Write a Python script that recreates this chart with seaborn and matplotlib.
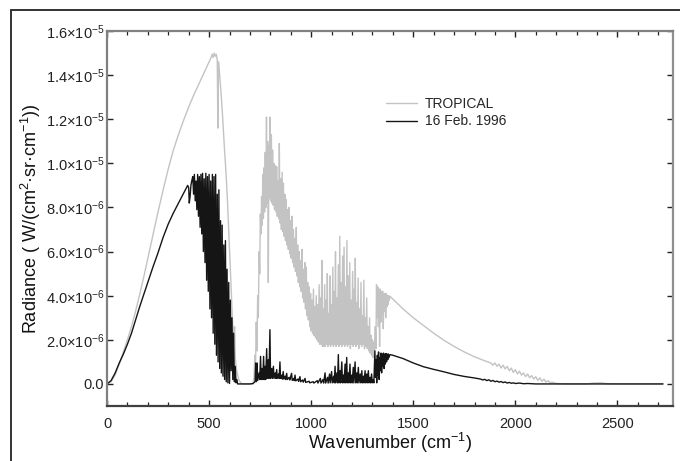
import numpy as np
import pandas as pd
import matplotlib
matplotlib.use("Agg")
import matplotlib.pyplot as plt
from matplotlib.patches import Rectangle
from matplotlib.ticker import MultipleLocator
import seaborn as sns

# ---------------- data (radiance in units of 1e-6 W/(cm2 sr cm-1)) ----------------
series_names = ["TROPICAL", "16 Feb. 1996"]

trop_wn = [0, 20, 40, 60, 80, 100, 120, 140, 160, 180, 200, 225, 250, 275, 300, 325, 350, 375, 400,
           425, 450, 475, 500, 505, 510, 515, 520, 525, 530, 535, 540, 543, 546, 550, 555, 560, 565,
           570, 575, 580, 585, 590, 595, 600, 605, 610, 615, 620, 625, 628, 635, 645, 655, 665, 715,
           720, 724, 727, 731, 734, 738, 741, 745, 748, 751, 754, 757, 760, 763, 766, 769, 772, 775,
           778, 781, 784, 787, 790, 793, 796, 799, 802, 805, 808, 811, 814, 817, 820, 824, 827, 831,
           834, 838, 841, 844, 847, 851, 854, 858, 861, 864, 867, 871, 874, 878, 881, 885, 888, 892,
           895, 899, 902, 906, 909, 913, 916, 920, 923, 927, 930, 934, 937, 941, 944, 948, 951, 955,
           958, 962, 965, 969, 972, 976, 979, 983, 986, 990, 993, 997, 1000, 1004, 1007, 1011, 1014,
           1018, 1021, 1025, 1028, 1032, 1035, 1039, 1042, 1046, 1049, 1052, 1055, 1059, 1062, 1066,
           1069, 1073, 1076, 1079, 1082, 1086, 1089, 1092, 1095, 1099, 1102, 1106, 1109, 1113, 1116,
           1119, 1122, 1126, 1129, 1133, 1136, 1140, 1143, 1147, 1150, 1154, 1157, 1161, 1164, 1168,
           1171, 1175, 1178, 1182, 1185, 1189, 1192, 1196, 1199, 1203, 1206, 1210, 1213, 1216, 1219,
           1223, 1226, 1230, 1233, 1237, 1240, 1244, 1247, 1251, 1254, 1258, 1261, 1265, 1268, 1272,
           1275, 1279, 1282, 1286, 1289, 1293, 1296, 1300, 1303, 1307, 1310, 1314, 1317, 1320, 1323,
           1326, 1329, 1332, 1335, 1338, 1341, 1344, 1347, 1350, 1353, 1356, 1359, 1362, 1365, 1368,
           1371, 1374, 1377, 1380, 1383, 1386, 1400, 1450, 1500, 1550, 1600, 1650, 1700, 1750, 1800,
           1850, 1880, 1890, 1900, 1910, 1920, 1930, 1940, 1950, 1960, 1970, 1980, 1990, 2000, 2010,
           2020, 2030, 2040, 2050, 2060, 2070, 2080, 2090, 2100, 2110, 2120, 2130, 2140, 2150, 2160,
           2170, 2180, 2200, 2250, 2350, 2380, 2420, 2450, 2500, 2723]
trop_rad = [0, 0.1, 0.4, 0.9, 1.45, 2.0, 2.6, 3.3, 4.05, 4.85, 5.7, 6.75, 7.8, 8.8, 9.75, 10.6, 11.3, 11.95, 12.55,
            13.1, 13.6, 14.1, 14.6, 14.7, 14.8, 14.95, 14.8, 15.0, 14.85, 14.95, 14.7, 11.6, 14.6, 14.2, 13.6, 13.0, 12.3,
            11.5, 10.7, 10.0, 9.2, 8.3, 7.2, 6.0, 4.9, 3.8, 2.8, 2.0, 2.6, 1.2, 0.6, 0.2, 0.05, 0.0, 0.0,
            0.3, 1.3, 0.6, 2.8, 1.5, 4.0, 3.0, 6.0, 5.0, 7.7, 6.8, 8.5, 7.2, 9.5, 7.5, 9.8, 7.8, 10.5,
            8.0, 12.1, 8.2, 11.0, 4.6, 10.8, 8.4, 12.1, 8.3, 11.3, 8.2, 10.6, 8.1, 10.0, 7.9, 9.9, 7.8, 9.85,
            7.6, 9.2, 7.5, 10.9, 7.3, 9.3, 7.0, 9.6, 6.9, 9.1, 6.7, 8.6, 6.5, 8.35, 6.3, 7.9, 6.1, 8.0,
            5.9, 7.4, 5.7, 7.6, 5.5, 7.0, 5.3, 6.6, 5.1, 7.1, 4.9, 6.3, 4.6, 6.0, 4.4, 5.6, 4.2, 6.1,
            3.9, 5.2, 3.7, 5.5, 3.4, 5.3, 3.1, 4.6, 2.9, 4.4, 2.6, 4.1, 2.4, 3.8, 2.3, 4.3, 2.2,
            3.5, 2.1, 4.0, 2.0, 3.6, 1.9, 4.5, 1.8, 3.9, 1.8, 5.6, 1.7, 3.4, 1.7, 4.5,
            1.7, 3.8, 1.8, 5.0, 1.7, 3.2, 1.8, 4.9, 1.7, 3.6, 1.8, 5.3, 1.7, 4.2, 1.8,
            6.0, 1.7, 3.9, 1.8, 5.4, 1.7, 6.7, 1.8, 4.6, 1.7, 5.8, 1.8, 6.2, 1.7, 4.4,
            1.8, 6.5, 1.7, 4.9, 1.8, 5.5, 1.6, 3.8, 1.8, 5.1, 1.7, 4.3, 1.8, 5.7, 1.7,
            3.7, 1.8, 4.8, 1.6, 3.4, 1.8, 4.6, 1.7, 3.1, 1.8, 4.7, 1.6, 3.0, 1.7, 3.9,
            1.6, 2.6, 1.5, 3.0, 1.4, 2.2, 1.3, 2.0, 1.2, 1.9, 1.5, 2.6, 1.6, 4.5, 3.0,
            4.4, 2.6, 4.3, 1.7, 4.3, 2.8, 4.2, 3.2, 4.2, 2.5, 4.1, 3.3, 4.1, 3.0, 4.1,
            3.5, 4.0, 3.6, 4.0, 3.8, 3.97, 3.85, 3.4, 3.0, 2.65, 2.3, 1.98, 1.7, 1.45, 1.23,
            1.05, 0.95, 0.85, 0.95, 0.8, 0.9, 0.72, 0.85, 0.68, 0.8, 0.6, 0.72, 0.52, 0.65, 0.45,
            0.58, 0.4, 0.5, 0.33, 0.45, 0.28, 0.38, 0.22, 0.33, 0.16, 0.28, 0.12, 0.22, 0.08, 0.15,
            0.04, 0.08, 0.02, 0.0, 0.0, 0.04, 0.05, 0.01, 0.0, 0.0]

feb_wn = [0, 20, 40, 60, 80, 100, 120, 140, 160, 180, 200, 225, 250, 275, 300, 325, 350, 375, 395,
          400, 403, 407, 411, 415, 420, 424, 428, 432, 436, 440, 444, 448, 452, 456, 460, 464, 468,
          472, 476, 480, 484, 488, 492, 496, 500, 504, 508, 512, 516, 520, 524, 528, 532, 536, 540,
          544, 548, 552, 556, 560, 564, 568, 572, 576, 580, 584, 588, 592, 596, 600, 604, 608, 612,
          616, 620, 624, 628, 632, 636, 640, 700, 715, 725, 728, 731, 735, 738, 745, 748, 752, 755,
          760, 763, 767, 770, 774, 777, 782, 785, 790, 793, 798, 801, 807, 810, 815, 818, 824, 827,
          831, 834, 840, 843, 847, 850, 856, 859, 863, 866, 872, 875, 880, 883, 892, 895, 904, 907,
          914, 917, 921, 924, 935, 938, 945, 948, 958, 961, 970, 973, 990, 993, 1010, 1013, 1030,
          1033, 1045, 1048, 1058, 1061, 1068, 1071, 1080, 1083, 1090, 1093, 1100, 1103, 1110, 1113,
          1117, 1120, 1126, 1129, 1133, 1136, 1141, 1144, 1150, 1153, 1158, 1161, 1166, 1169, 1174,
          1177, 1182, 1185, 1190, 1193, 1198, 1201, 1206, 1209, 1215, 1218, 1223, 1226, 1231, 1234,
          1240, 1243, 1248, 1251, 1256, 1259, 1264, 1267, 1272, 1275, 1280, 1283, 1288, 1291, 1296,
          1299, 1304, 1307, 1312, 1315, 1318, 1321, 1324, 1327, 1330, 1333, 1336, 1339, 1342, 1345,
          1348, 1351, 1354, 1357, 1360, 1363, 1366, 1369, 1372, 1375, 1378, 1381, 1386, 1400, 1450,
          1500, 1550, 1600, 1650, 1700, 1750, 1800, 1830, 1840, 1850, 1860, 1870, 1880, 1890, 1900,
          1910, 1920, 1930, 1940, 1950, 1960, 1970, 1980, 1990, 2000, 2020, 2040, 2060, 2100, 2723]
feb_rad = [0, 0.15, 0.5, 0.95, 1.35, 1.8, 2.3, 2.9, 3.5, 4.05, 4.6, 5.3, 5.95, 6.65, 7.25, 7.75, 8.2, 8.65, 9.0,
           8.9, 8.2, 8.5, 9.0, 9.2, 9.4, 8.6, 9.5, 8.3, 9.2, 7.9, 9.5, 7.6, 9.4, 7.1, 9.5, 6.8, 9.55,
           6.0, 9.3, 5.5, 9.55, 4.7, 9.4, 4.2, 9.5, 3.4, 9.2, 3.0, 9.5, 2.3, 9.4, 1.8, 9.5, 1.3, 8.6,
           1.0, 8.8, 0.7, 7.4, 0.5, 7.2, 0.35, 6.3, 0.2, 6.5, 0.1, 5.2, 0.05, 4.6, 0.02, 3.8, 0.6, 3.0,
           0.2, 2.3, 0.1, 0.8, 0.05, 0.2, 0.0, 0.0, 0.02, 0.1, 0.95, 0.1, 0.95, 0.15, 0.5, 0.2, 1.25, 0.2,
           0.7, 0.2, 1.25, 0.2, 0.8, 0.2, 1.6, 0.25, 1.1, 0.25, 2.46, 0.25, 0.7, 0.25, 0.8, 0.25, 0.5, 0.25,
           0.65, 0.25, 0.45, 0.25, 1.0, 0.25, 0.4, 0.22, 0.56, 0.22, 0.35, 0.2, 0.48, 0.2, 0.3, 0.18, 0.48, 0.16,
           0.25, 0.15, 0.4, 0.14, 0.22, 0.12, 0.33, 0.1, 0.18, 0.08, 0.25, 0.07, 0.12, 0.05, 0.1, 0.04, 0.15,
           0.04, 0.25, 0.04, 0.2, 0.04, 0.5, 0.04, 0.3, 0.04, 0.45, 0.05, 0.56, 0.05, 0.35, 0.05,
           0.8, 0.05, 0.5, 0.05, 1.33, 0.05, 0.6, 0.05, 1.0, 0.05, 0.4, 0.05, 0.9, 0.05, 1.2,
           0.05, 0.5, 0.05, 0.9, 0.05, 0.4, 0.05, 0.75, 0.05, 1.0, 0.05, 0.5, 0.05, 0.75, 0.05,
           0.45, 0.05, 0.6, 0.05, 0.35, 0.05, 0.6, 0.05, 0.45, 0.05, 0.6, 0.05, 0.3, 0.05, 0.45,
           0.05, 0.2, 0.05, 1.5, 0.3, 1.1, 0.05, 1.3, 0.4, 1.45, 0.2, 1.2, 0.6, 1.4, 0.5,
           1.35, 0.8, 1.4, 0.7, 1.35, 0.9, 1.38, 1.0, 1.35, 1.1, 1.36, 1.2, 1.33, 1.3, 1.15,
           0.95, 0.78, 0.66, 0.55, 0.43, 0.34, 0.27, 0.22, 0.18, 0.21, 0.15, 0.19, 0.12, 0.16, 0.1,
           0.13, 0.08, 0.11, 0.06, 0.09, 0.04, 0.07, 0.03, 0.05, 0.02, 0.04, 0.01, 0.02, 0.0, 0.0]

xtick_values = [0, 500, 1000, 1500, 2000, 2500]
ytick_values = [0.0, 2e-6, 4e-6, 6e-6, 8e-6, 1e-5, 1.2e-5, 1.4e-5, 1.6e-5]
ytick_labels = ["0.0", "2.0×10$^{-6}$", "4.0×10$^{-6}$", "6.0×10$^{-6}$", "8.0×10$^{-6}$",
                "1.0×10$^{-5}$", "1.2×10$^{-5}$", "1.4×10$^{-5}$", "1.6×10$^{-5}$"]
UNIT = 1e-6

# ---------------- style ----------------
sns.set_style("ticks")
plt.rcParams["font.family"] = ["Liberation Sans", "DejaVu Sans"]
plt.rcParams["mathtext.fontset"] = "custom"
plt.rcParams["mathtext.rm"] = "Liberation Sans"
plt.rcParams["mathtext.it"] = "Liberation Sans:italic"
plt.rcParams["mathtext.bf"] = "Liberation Sans:bold"

df = pd.concat([
    pd.DataFrame({"wn": trop_wn, "rad": np.array(trop_rad) * UNIT, "series": series_names[0]}),
    pd.DataFrame({"wn": feb_wn, "rad": np.array(feb_rad) * UNIT, "series": series_names[1]}),
], ignore_index=True)

fig = plt.figure(figsize=(6.8, 4.61), dpi=100)
ax = fig.add_axes([107 / 680, 1 - 406 / 461, (673 - 107) / 680, (406 - 31) / 461])

sns.lineplot(data=df, x="wn", y="rad", hue="series", hue_order=series_names,
             palette={series_names[0]: "#c3c3c3", series_names[1]: "#151515"},
             estimator=None, sort=False, lw=1.0, ax=ax)

ax.set_xlim(0, 2772)
ax.set_ylim(-1e-6, 1.6e-5)
ax.set_xticks(xtick_values)
ax.xaxis.set_minor_locator(MultipleLocator(100))
ax.set_yticks(ytick_values)
ax.set_yticklabels(ytick_labels)

ax.tick_params(axis="both", which="both", direction="in", top=True, right=True,
               labelsize=10.5, colors="#222222")
ax.tick_params(axis="both", which="major", length=4, width=1.0)
ax.tick_params(axis="both", which="minor", length=3, width=0.9)
ax.tick_params(axis="y", which="major", pad=2)
ax.tick_params(axis="x", which="major", pad=8)

for side, col in [("left", "#808080"), ("bottom", "#404040"), ("top", "#808080"), ("right", "#909090")]:
    ax.spines[side].set_visible(True)
    ax.spines[side].set_color(col)
    ax.spines[side].set_linewidth(1.6)

ax.set_xlabel("Wavenumber (cm$^{-1}$)", fontsize=13, color="#111111", labelpad=0)
ax.set_ylabel("Radiance ( W/(cm$^{2}$·sr·cm$^{-1}$))", fontsize=13, color="#111111", labelpad=2)

leg = ax.legend(loc="upper left", bbox_to_anchor=((386 - 107) / 566, (406 - 97) / 375),
                frameon=False, fontsize=10, handlelength=2.2, handletextpad=0.6,
                labelspacing=0.25, borderpad=0, borderaxespad=0)
for line in leg.get_lines():
    line.set_linewidth(1.0)

fig.add_artist(Rectangle((11 / 680, -0.1), 1.2, (1 - 10 / 461) + 0.1, transform=fig.transFigure,
                         fill=False, lw=1.3, ec="#222222", clip_on=False))

fig.savefig("out.png", dpi=100)
